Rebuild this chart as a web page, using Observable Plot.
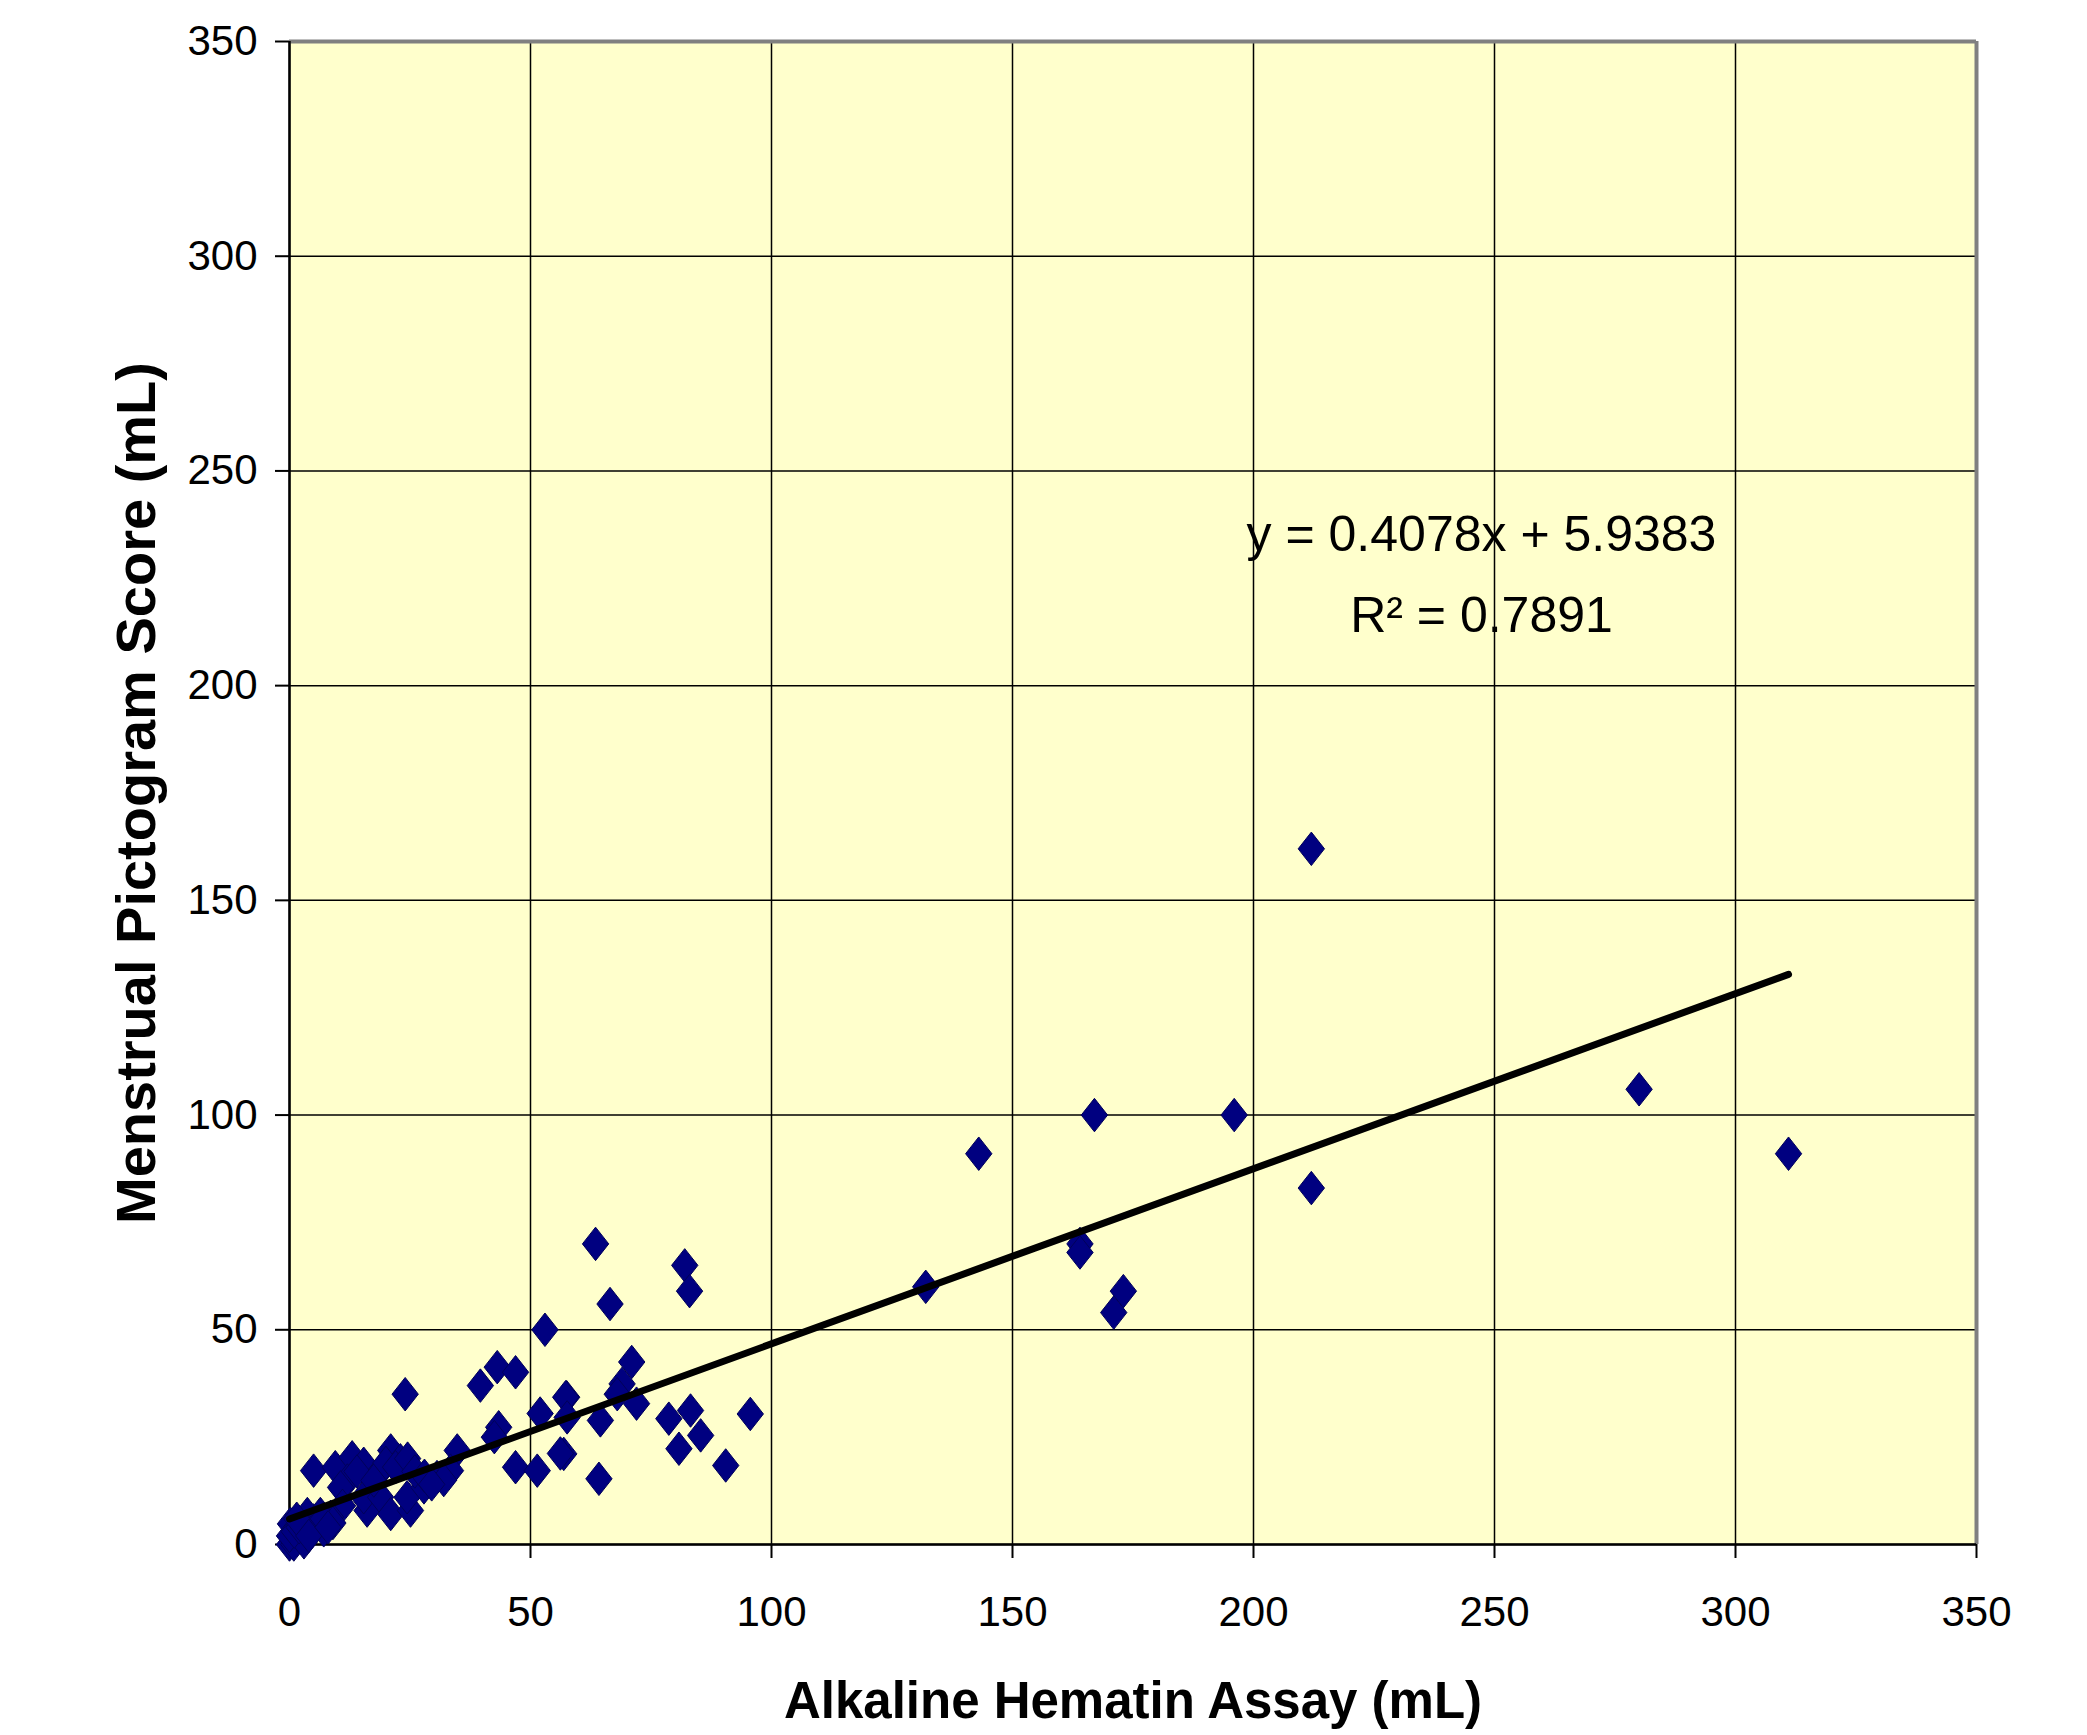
<!DOCTYPE html>
<html>
<head>
<meta charset="utf-8">
<script src="https://cdn.jsdelivr.net/npm/d3@7"></script>
<script src="https://cdn.jsdelivr.net/npm/@observablehq/plot@0.6"></script>
<style>
  html, body { margin: 0; padding: 0; background: #ffffff; }
  #chart { width: 2087px; height: 1735px; }
</style>
</head>
<body>
<div id="chart"></div>
<script>
// Alkaline Hematin Assay (mL) – x values
const ahaValues = [
  212, 280, 311, 196, 167, 143, 212, 132, 164, 164, 173, 171,
  63.5, 82, 83, 66.5, 53, 71, 69, 68, 72, 57.5, 64.5, 56.9, 64.2, 78.7, 83.2, 85.3, 80.8, 95.6, 90.5,
  24, 39.6, 43.1, 46.9, 43.4, 42.5, 52, 57.3, 57.6, 46.9, 51.4, 56.2, 34.8,
  5, 9.5, 13, 15.4, 21, 23, 18.9, 12, 10.6, 16.1, 15.4, 18.9, 21, 25.1, 24.4, 27.9, 30.6, 33.4, 32, 14, 17.5,
  20, 22, 24.5, 26, 28, 11, 29.5,
  0, 0.2, 2.3, 5, 7.1, 8.5, 0.9, 0, 3.7, 6.4, 3, 1, 2, 4, 6, 7, 9, 1.5, 4, 8
];
// Menstrual Pictogram Score (mL) – y values
const mpValues = [
  162, 106, 91, 100, 100, 91, 83, 60, 70, 68, 59, 54,
  70, 65, 59, 56, 50, 42.5, 37.4, 35, 32.8, 34.3, 28.9, 21.1, 15.3, 29.3, 31.2, 25.4, 22.3, 30.4, 18.4,
  35, 37, 41.3, 40.1, 27.3, 25, 30.5, 34.3, 29.6, 18, 17.2, 21.2, 21.9,
  17.2, 18, 20.3, 18.8, 21.9, 19.6, 17.2, 14.9, 13.3, 7.9, 11, 11, 7.1, 7.9, 11, 13.3, 15.7, 17.2, 15, 17, 14.9,
  19, 18, 20, 17, 16, 9, 14,
  0, 4.8, 1.7, 5.6, 3.3, 6.4, 0, 2, 7.1, 7.1, 0.5, 3, 4, 3, 5, 6, 5, 6, 2, 4
];
const xTicks = [0, 50, 100, 150, 200, 250, 300, 350];
const yTicks = [0, 50, 100, 150, 200, 250, 300, 350];
const slope = 0.4078;
const intercept = 5.9383;
const equationLabel = "y = 0.4078x + 5.9383";
const r2Label = "R\u00B2 = 0.7891";
const xTitle = "Alkaline Hematin Assay (mL)";
const yTitle = "Menstrual Pictogram Score (mL)";

const data = ahaValues.map((v, i) => ({aha: v, mp: mpValues[i]}));
const xExt = d3.extent(ahaValues);
const trend = xExt.map(v => ({aha: v, mp: slope * v + intercept}));

const diamond = {
  draw(ctx, size) {
    const s = Math.sqrt(size / Math.PI);
    ctx.moveTo(0, -s * 1.08);
    ctx.lineTo(s * 0.85, 0);
    ctx.lineTo(0, s * 1.08);
    ctx.lineTo(-s * 0.85, 0);
    ctx.closePath();
  }
};

const font = "'Liberation Sans', Arial, Helvetica, sans-serif";

const chart = Plot.plot({
  width: 2087,
  height: 1735,
  marginLeft: 289,
  marginRight: 111,
  marginTop: 41,
  marginBottom: 191,
  style: {fontFamily: font, background: "#ffffff", color: "#000000", overflow: "visible"},
  x: {domain: [0, 350], ticks: xTicks},
  y: {domain: [0, 350], ticks: yTicks},
  marks: [
    Plot.frame({fill: "#FFFFCC", stroke: null}),
    Plot.gridX(xTicks, {stroke: "#000000", strokeOpacity: 1, strokeWidth: 1.5}),
    Plot.gridY(yTicks, {stroke: "#000000", strokeOpacity: 1, strokeWidth: 1.5}),
    Plot.ruleY([350], {stroke: "#808080", strokeWidth: 4}),
    Plot.ruleX([350], {stroke: "#808080", strokeWidth: 4}),
    Plot.axisX(xTicks, {tickSize: 14, tickPadding: 38, fontSize: 42, label: null, strokeWidth: 2}),
    Plot.axisY(yTicks, {tickSize: 14, tickPadding: 18, fontSize: 42, label: null, strokeWidth: 2}),
    Plot.ruleX([0], {stroke: "#000000", strokeWidth: 2.5}),
    Plot.ruleY([0], {stroke: "#000000", strokeWidth: 2.5}),
    Plot.dot(data, {x: "aha", y: "mp", symbol: diamond, r: 15.5, fill: "#000080", stroke: "#00005a", strokeWidth: 1}),
    Plot.line(trend, {x: "aha", y: "mp", stroke: "#000000", strokeWidth: 7}),
    Plot.text([equationLabel], {x: () => 247.3, y: () => 235, text: d => d, fontSize: 50, textAnchor: "middle", lineAnchor: "middle", fill: "#000"}),
    Plot.text([r2Label], {x: () => 247.3, y: () => 216.3, text: d => d, fontSize: 50, textAnchor: "middle", lineAnchor: "middle", fill: "#000"}),
    Plot.text([xTitle], {frameAnchor: "bottom", dy: 157, text: d => d, fontSize: 51, fontWeight: "bold", textAnchor: "middle", lineAnchor: "middle", fill: "#000"}),
    Plot.text([yTitle], {frameAnchor: "left", dx: -152, rotate: -90, text: d => d, fontSize: 56, fontWeight: "bold", textAnchor: "middle", lineAnchor: "middle", fill: "#000"})
  ]
});
document.getElementById("chart").appendChild(chart);
</script>
</body>
</html>
